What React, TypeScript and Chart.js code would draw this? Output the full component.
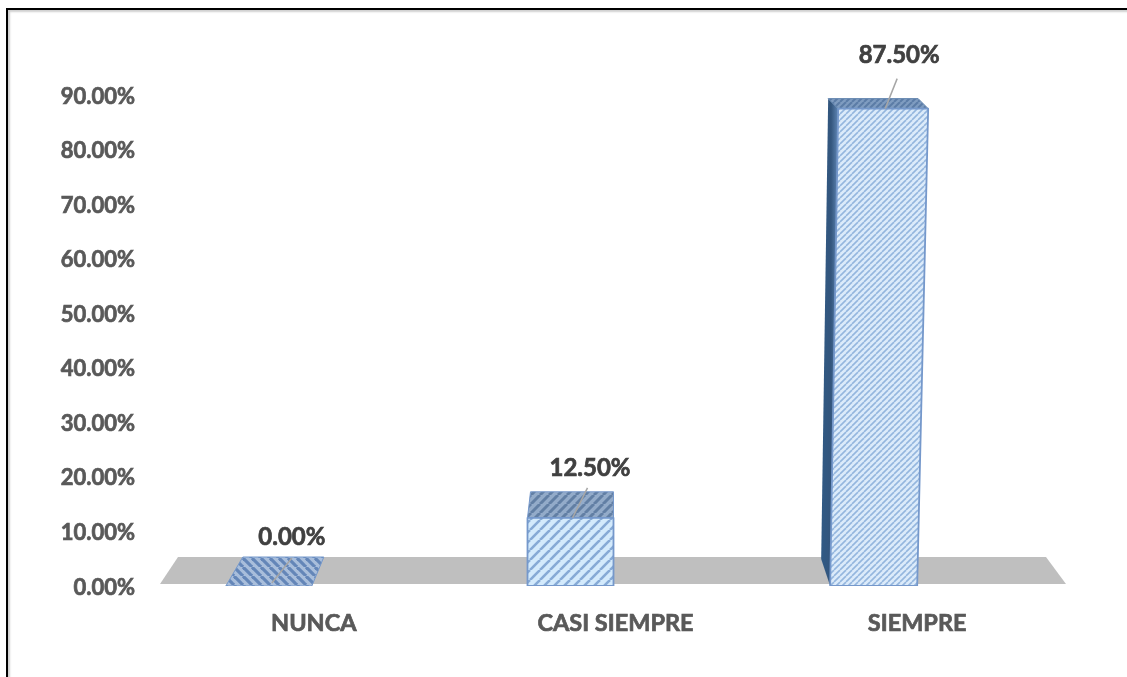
import React, { useEffect, useRef } from "react";
import { Chart, registerables } from "chart.js";

Chart.register(...registerables);

const categories = ["NUNCA", "CASI SIEMPRE", "SIEMPRE"];
const seriesValues = [0, 12.5, 87.5];
const yTickStep = 10;
const yMax = 90;

const FONT = "Lato, sans-serif";

// Perspective of each bar, relative to its category position on the x scale.
const perspective = [
  { bl: -88, br: -2, tl: -88, tr: -2, bkl: -71, bkr: 10, depth: 29, side: 0, kind: "flat", leader: [-22, -28, -42, -3], label: [-22, -49] },
  { bl: -88, br: -2, tl: -88, tr: -2, bkl: -85, bkr: -2, depth: 26, side: 0, kind: "wide", leader: [-28, -30, -43, 0], label: [-25.5, -50] },
  { bl: -87, br: 0, tl: -79, tr: 11, bkl: -89, bkr: 1, depth: 10, side: 1, kind: "fine", leader: [-20, -30, -32, 0], label: [-18, -53] },
];

function hatch(base: string, stripe: string, period: number, lw: number, back: boolean) {
  const c = document.createElement("canvas");
  c.width = period;
  c.height = period;
  const g = c.getContext("2d")!;
  g.fillStyle = base;
  g.fillRect(0, 0, period, period);
  g.strokeStyle = stripe;
  g.lineWidth = lw;
  for (const o of [-period, 0, period]) {
    g.beginPath();
    if (back) {
      g.moveTo(o, 0);
      g.lineTo(o + period, period);
    } else {
      g.moveTo(o, period);
      g.lineTo(o + period, 0);
    }
    g.stroke();
  }
  return g.createPattern(c, "repeat")!;
}

function poly(ctx: CanvasRenderingContext2D, pts: number[][], fill: any, stroke?: string, lw = 1.5) {
  ctx.beginPath();
  pts.forEach((p, i) => (i ? ctx.lineTo(p[0], p[1]) : ctx.moveTo(p[0], p[1])));
  ctx.closePath();
  ctx.fillStyle = fill;
  ctx.fill();
  if (stroke) {
    ctx.strokeStyle = stroke;
    ctx.lineWidth = lw;
    ctx.lineJoin = "round";
    ctx.stroke();
  }
}

const floorPlugin = {
  id: "floor3d",
  beforeDatasetsDraw(chart: any) {
    const { ctx, chartArea: a } = chart;
    const base = chart.scales.y.getPixelForValue(0) - 2;
    ctx.save();
    ctx.filter = "blur(0.6px)";
    poly(ctx, [[a.left - 3, base], [a.left + 15, base - 27], [a.right - 22, base - 27], [a.right - 2, base]], "#bfbfbf");
    ctx.restore();
  },
  beforeDatasetDraw(chart: any) {
    const meta = chart.getDatasetMeta(0);
    const frontWide = hatch("#d3eafc", "#86aad6", 10, 2.6, false);
    const frontFine = hatch("#dcebfa", "#94b6de", 6, 1.6, false);
    const topWide = hatch("#93abc9", "#627fa4", 9, 3, false);
    const topFine = hatch("#7f9cc0", "#5c7ca6", 6, 2, false);
    const topFlat = hatch("#a9bedb", "#6486b8", 9, 3.2, true);
    meta.data.forEach((el: any, i: number) => {
      const g = perspective[i];
      el.draw = (ctx: CanvasRenderingContext2D) => {
        const { x, y, base } = el.getProps(["x", "y", "base"], true);
        const edge = "#7598cb";
        ctx.save();
        ctx.filter = "blur(0.6px)";
        if (g.side) {
          const grad = ctx.createLinearGradient(x + g.bkl - 8, 0, x + g.tl, 0);
          grad.addColorStop(0, "#2f5a86");
          grad.addColorStop(0.6, "#33557c");
          grad.addColorStop(1, "#5f86b5");
          poly(ctx, [[x + g.bkl, y - g.depth], [x + g.tl, y], [x + g.bl, base], [x + g.bl - 9, base - 27]], grad);
        }
        const topFill = g.kind === "flat" ? topFlat : g.kind === "wide" ? topWide : topFine;
        poly(ctx, [[x + g.tl, y], [x + g.bkl, y - g.depth], [x + g.bkr, y - g.depth], [x + g.tr, y]], topFill, g.kind === "fine" ? "#5f83ad" : edge, 1);
        if (base - y > 1) {
          const frontFill = g.kind === "wide" ? frontWide : frontFine;
          poly(ctx, [[x + g.bl, base], [x + g.tl, y], [x + g.tr, y], [x + g.br, base]], frontFill, edge, 1.8);
        }
        ctx.restore();
      };
    });
  },
  afterDatasetsDraw(chart: any) {
    const { ctx } = chart;
    const meta = chart.getDatasetMeta(0);
    ctx.save();
    meta.data.forEach((el: any, i: number) => {
      const g = perspective[i];
      const { x, y } = el;
      ctx.beginPath();
      ctx.moveTo(x + g.leader[0], y + g.leader[1]);
      ctx.lineTo(x + g.leader[2], y + g.leader[3]);
      ctx.strokeStyle = "#a6a6a6";
      ctx.lineWidth = 1.5;
      ctx.stroke();
      ctx.fillStyle = "#404040";
      ctx.strokeStyle = "#404040";
      ctx.lineWidth = 0.7;
      ctx.font = `bold 24px ${FONT}`;
      ctx.textAlign = "center";
      ctx.textBaseline = "middle";
      const text = `${seriesValues[i].toFixed(2)}%`;
      ctx.strokeText(text, x + g.label[0], y + g.label[1]);
      ctx.fillText(text, x + g.label[0], y + g.label[1]);
    });
    ctx.restore();
  },
};

export default function App() {
  const ref = useRef<HTMLCanvasElement>(null);

  useEffect(() => {
    const chart = new Chart(ref.current!, {
      type: "bar",
      data: {
        labels: categories,
        datasets: [{ data: seriesValues, backgroundColor: "#cfe4fa", barThickness: 86 }],
      },
      plugins: [floorPlugin],
      options: {
        animation: false,
        responsive: false,
        layout: { padding: { top: 95, right: 59, bottom: 0, left: 0 } },
        plugins: { legend: { display: false }, title: { display: false }, tooltip: { enabled: false } },
        scales: {
          x: {
            grid: { display: false, drawTicks: false },
            border: { display: false },
            afterFit: (s: any) => {
              s.height = 91;
            },
            ticks: {
              padding: 23,
              color: "#595959",
              textStrokeColor: "#595959",
              textStrokeWidth: 0.7,
              font: { family: FONT, size: 23.5, weight: "bold" },
              maxRotation: 0,
            },
          },
          y: {
            min: 0,
            max: yMax,
            grid: { display: false, drawTicks: false },
            border: { display: false },
            afterFit: (s: any) => {
              s.width = 163;
            },
            ticks: {
              stepSize: yTickStep,
              padding: 28,
              labelOffset: 1.5,
              color: "#595959",
              textStrokeColor: "#595959",
              textStrokeWidth: 0.7,
              font: { family: FONT, size: 22, weight: "bold" },
              callback: (v: any) => `${Number(v).toFixed(2)}%`,
            },
          },
        },
      },
    } as any);
    return () => chart.destroy();
  }, []);

  return (
    <div style={{ position: "fixed", inset: 0, background: "#fff", overflow: "hidden" }}>
      <canvas ref={ref} width={1127} height={677} style={{ display: "block", position: "absolute", left: 0, top: 0 }} />
      <div
        style={{
          position: "absolute",
          left: 6,
          top: 8,
          right: 0,
          bottom: 0,
          borderLeft: "2px solid #000",
          borderTop: "2px solid #000",
          boxShadow: "inset 3px 3px 2px -1px #d0d0d0",
          pointerEvents: "none",
        }}
      />
    </div>
  );
}
